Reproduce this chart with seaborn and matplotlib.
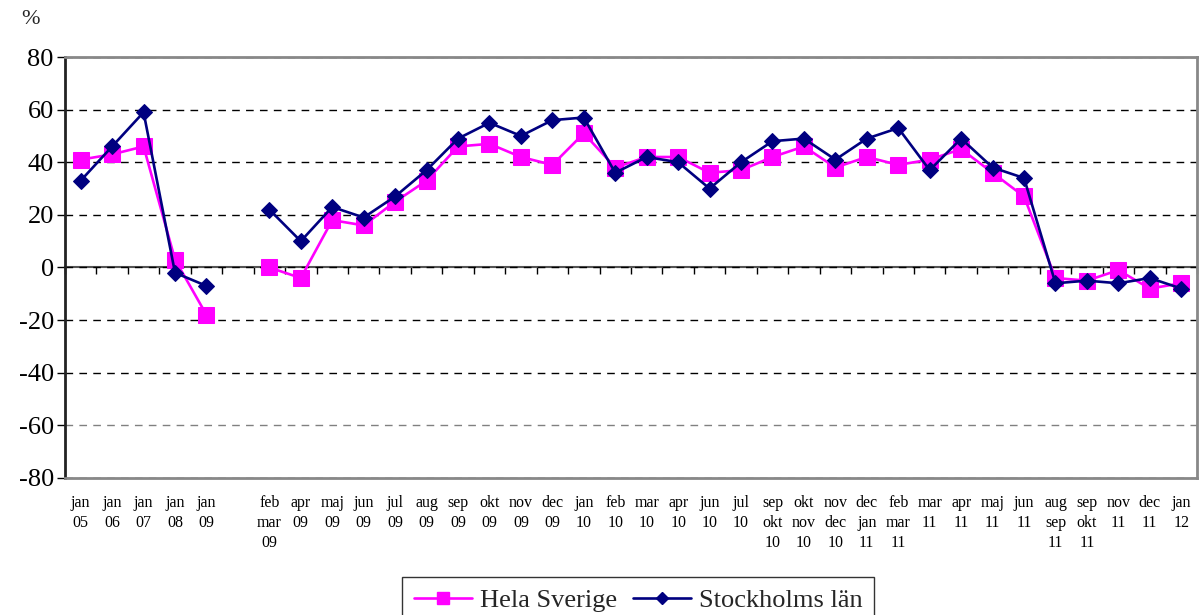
import numpy as np
import pandas as pd
import matplotlib.pyplot as plt
from matplotlib.lines import Line2D
import seaborn as sns

# Perioder (tom kategori = glapp mellan jan 09 och feb/mar 09)
perioder = [
    "jan\n05", "jan\n06", "jan\n07", "jan\n08", "jan\n09", "",
    "feb\nmar\n09", "apr\n09", "maj\n09", "jun\n09", "jul\n09", "aug\n09",
    "sep\n09", "okt\n09", "nov\n09", "dec\n09", "jan\n10", "feb\n10",
    "mar\n10", "apr\n10", "jun\n10", "jul\n10", "sep\nokt\n10", "okt\nnov\n10",
    "nov\ndec\n10", "dec\njan\n11", "feb\nmar\n11", "mar\n11", "apr\n11",
    "maj\n11", "jun\n11", "aug\nsep\n11", "sep\nokt\n11", "nov\n11",
    "dec\n11", "jan\n12",
]
hela_sverige = [41, 43, 46, 3, -18, None,
                0, -4, 18, 16, 25, 33, 46, 47, 42, 39,
                51, 38, 42, 42, 36, 37,
                42, 46, 38, 42, 39,
                41, 45, 36, 27,
                -4, -5, -1, -8, -6]
stockholms_lan = [33, 46, 59, -2, -7, None,
                  22, 10, 23, 19, 27, 37, 49, 55, 50, 56,
                  57, 36, 42, 40, 30, 40,
                  48, 49, 41, 49, 53,
                  37, 49, 38, 34,
                  -6, -5, -6, -4, -8]
y_ticks = [-80, -60, -40, -20, 0, 20, 40, 60, 80]

serier = {"Hela Sverige": hela_sverige, "Stockholms län": stockholms_lan}
farger = {"Hela Sverige": "#FF00FF", "Stockholms län": "#000080"}
markorer = {"Hela Sverige": ("s", 11), "Stockholms län": ("D", 8)}

rows = []
for namn, varden in serier.items():
    for i, v in enumerate(varden):
        if v is None:
            continue
        rows.append({"x": i, "värde": v, "serie": namn, "segment": 0 if i < 5 else 1})
df = pd.DataFrame(rows)

sns.set_theme(style="white")
plt.rcParams['font.family'] = ['Liberation Serif', 'DejaVu Serif']

fig = plt.figure(figsize=(12.03, 6.15), dpi=100)
ax = fig.add_axes([0.054, 0.2228, 0.941, 0.6845])

for namn in serier:
    mark, ms = markorer[namn]
    sns.lineplot(data=df[df["serie"] == namn], x="x", y="värde", units="segment",
                 estimator=None, color=farger[namn], marker=mark, markersize=ms,
                 markeredgecolor=farger[namn], linewidth=1.9, legend=False, ax=ax)

ax.set_xlim(-0.5, len(perioder) - 0.5)
ax.set_ylim(-80, 80)
ax.set_yticks(y_ticks)
ax.set_yticklabels([str(t) for t in y_ticks], fontsize=19)
ax.set_xticks(range(len(perioder)))
ax.set_xticklabels(perioder, fontsize=11.5, linespacing=1.35, va="top")
ax.tick_params(axis="x", length=0, pad=12, colors="black")
ax.tick_params(axis="y", length=6, width=1, direction="out", colors="black", pad=2, left=True)
ax.set_xlabel("")
ax.set_ylabel("")

ax.yaxis.grid(True, color="black", linestyle=(0, (5.5, 4.5)), linewidth=1)
ax.set_axisbelow(True)
ax.get_ygridlines()[1].set_color("#808080")

for side in ["top", "right", "bottom"]:
    ax.spines[side].set_color("#888888")
    ax.spines[side].set_linewidth(2)
ax.spines["left"].set_color("#222222")
ax.spines["left"].set_linewidth(2)

# nollinje med streck mellan kategorierna
secax = ax.secondary_xaxis(0.5)
secax.set_xticks(np.arange(-0.5, len(perioder), 1))
secax.tick_params(direction="in", length=5, width=1, colors="black",
                  labeltop=False, labelbottom=False)
for s in secax.spines.values():
    s.set_color("#555555")
    s.set_linewidth(1.5)

fig.text(30 / 1203, 1 - 19 / 615, "%", ha="center", va="center", fontsize=16)

handles = [Line2D([], [], color=farger[n], marker=markorer[n][0],
                  markersize=markorer[n][1] * 0.75, markeredgecolor=farger[n],
                  linewidth=1.9, label=n) for n in serier]
leg = fig.legend(handles=handles, loc="upper center", ncol=2,
                 bbox_to_anchor=(638 / 1203, 1 - 577 / 615), fontsize=19,
                 frameon=True, fancybox=False, edgecolor="black",
                 handlelength=2.2, handletextpad=0.3, columnspacing=0.6,
                 borderpad=0.45, borderaxespad=0)
leg.get_frame().set_linewidth(1)

plt.savefig("out.png", dpi=100)
plt.close()
